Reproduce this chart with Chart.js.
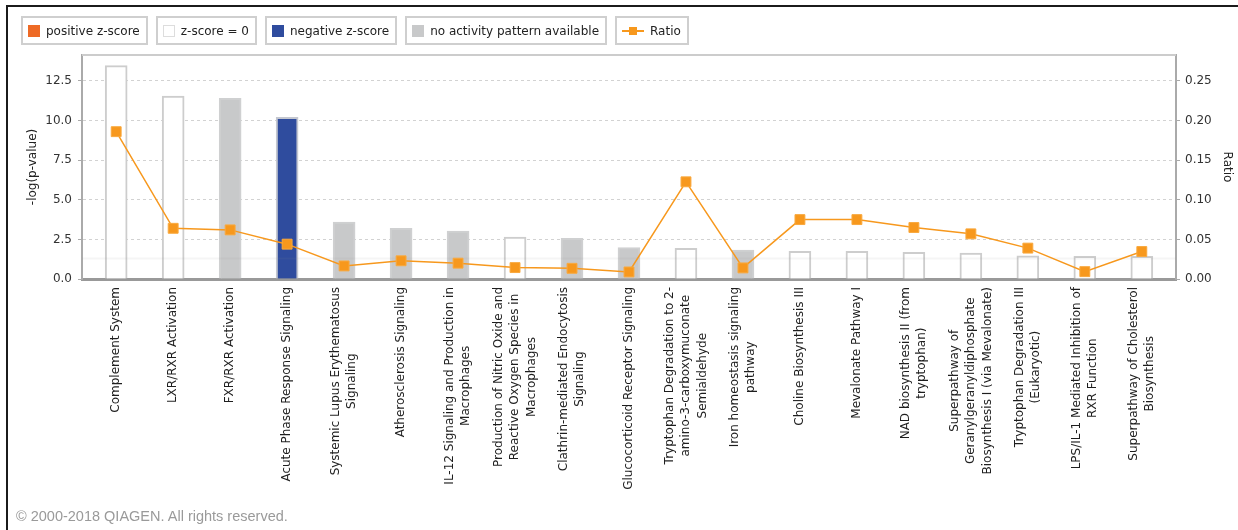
<!DOCTYPE html>
<html>
<head>
<meta charset="utf-8">
<script src="https://cdn.jsdelivr.net/npm/chart.js@4"></script>
<style>
  html,body{margin:0;padding:0;background:#fff;}
  body{width:1238px;height:530px;position:relative;overflow:hidden;font-family:"DejaVu Sans",sans-serif;}
  #wrap{position:absolute;left:0;top:0;width:1238px;height:530px;}
  .frameTop{position:absolute;left:6px;top:5px;width:1232px;height:2px;background:#1b1b1b;}
  .frameLeft{position:absolute;left:6px;top:5px;width:2px;height:525px;background:#1b1b1b;}
  #legend{position:absolute;left:21px;top:16px;display:flex;gap:8px;}
  .item{box-sizing:border-box;height:29px;border:2px solid #cfcfcf;padding:0 6px 0 5px;display:flex;align-items:center;font-size:12px;color:#222;white-space:nowrap;}
  .sw{width:12px;height:12px;margin-right:6px;box-sizing:border-box;}
  .ratioIcon{position:relative;width:22px;height:12px;margin-right:6px;}
  .ratioIcon:before{content:"";position:absolute;left:0;right:0;top:5px;height:2px;background:#f7981d;}
  .ratioIcon:after{content:"";position:absolute;left:7px;top:2px;width:8px;height:8px;background:#f7981d;}
  #copy{position:absolute;left:16px;top:508px;font-family:"Liberation Sans",Arial,sans-serif;font-size:14.5px;color:#9a9a9a;}
  canvas{position:absolute;left:0;top:0;}
</style>
</head>
<body>
<div id="wrap">
  <canvas id="chart" width="1238" height="530"></canvas>
  <div class="frameTop"></div>
  <div class="frameLeft"></div>
  <div id="legend">
    <div class="item"><span class="sw" style="background:#ee6a25"></span>positive z-score</div>
    <div class="item"><span class="sw" style="background:#fff;border:1px solid #ddd"></span>z-score = 0</div>
    <div class="item"><span class="sw" style="background:#2f4c9e"></span>negative z-score</div>
    <div class="item"><span class="sw" style="background:#c8c9ca"></span>no activity pattern available</div>
    <div class="item"><span class="ratioIcon"></span>Ratio</div>
  </div>
  <div id="copy">© 2000-2018 QIAGEN. All rights reserved.</div>
</div>
<script>
// pathways (wrapped as in the IPA export)
const pathways = [
  ["Complement System"],
  ["LXR/RXR Activation"],
  ["FXR/RXR Activation"],
  ["Acute Phase Response Signaling"],
  ["Systemic Lupus Erythematosus", "Signaling"],
  ["Atherosclerosis Signaling"],
  ["IL-12 Signaling and Production in", "Macrophages"],
  ["Production of Nitric Oxide and", "Reactive Oxygen Species in", "Macrophages"],
  ["Clathrin-mediated Endocytosis", "Signaling"],
  ["Glucocorticoid Receptor Signaling"],
  ["Tryptophan Degradation to 2-", "amino-3-carboxymuconate", "Semialdehyde"],
  ["Iron homeostasis signaling", "pathway"],
  ["Choline Biosynthesis III"],
  ["Mevalonate Pathway I"],
  ["NAD biosynthesis II (from", "tryptophan)"],
  ["Superpathway of", "Geranylgeranyldiphosphate", "Biosynthesis I (via Mevalonate)"],
  ["Tryptophan Degradation III", "(Eukaryotic)"],
  ["LPS/IL-1 Mediated Inhibition of", "RXR Function"],
  ["Superpathway of Cholesterol", "Biosynthesis"]
];
const logP  = [13.47, 11.55, 11.41, 10.21, 3.6, 3.2, 3.03, 2.65, 2.57, 1.98, 1.94, 1.83, 1.75, 1.75, 1.68, 1.64, 1.47, 1.43, 1.43];
const ratio = [0.186, 0.064, 0.062, 0.044, 0.0165, 0.023, 0.020, 0.0144, 0.0135, 0.0089, 0.1227, 0.014, 0.075, 0.075, 0.065, 0.057, 0.039, 0.0093, 0.0347];
const zType = ['zero','zero','none','negative','none','none','none','zero','none','none','zero','none','zero','zero','zero','zero','zero','zero','zero'];
const threshold = 1.3;
const leftTicks = {max: 14.14, step: 2.5};
const rightTicks = {max: 0.2828, step: 0.05};

const fill = {positive:'#ee6a25', zero:'#ffffff', negative:'#2f4c9e', none:'#c8c9ca'};
const edge = {positive:'#ee6a25', zero:'#cdcdcd', negative:'#c4c7d0', none:'#cfd0d1'};
const FONT = '"DejaVu Sans", sans-serif';

const extras = {
  id:'extras',
  beforeDatasetsDraw(chart){
    const {ctx, chartArea:a} = chart;
    ctx.save();
    ctx.strokeStyle = '#cccccc'; ctx.lineWidth = 2;
    ctx.beginPath(); ctx.moveTo(a.left, a.top); ctx.lineTo(a.right, a.top); ctx.stroke();
    ctx.restore();
  },
  afterDatasetDraw(chart, args){
    if(args.index !== 1) return;
    const {ctx, chartArea:a} = chart;
    const y = chart.scales.y.getPixelForValue(threshold);
    ctx.save();
    ctx.strokeStyle = 'rgba(140,140,140,0.09)'; ctx.lineWidth = 2;
    ctx.beginPath(); ctx.moveTo(a.left, y); ctx.lineTo(a.right, y); ctx.stroke();
    ctx.restore();
  },
  afterDraw(chart){
    const ctx = chart.ctx, xs = chart.scales.x;
    const top = chart.chartArea.bottom + 8, lh = 16.5;
    ctx.save();
    ctx.font = '12px ' + FONT;
    ctx.fillStyle = '#1e1e1e';
    ctx.textAlign = 'center';
    ctx.textBaseline = 'middle';
    pathways.forEach((lines, i)=>{
      const x = xs.getPixelForValue(i);
      const w = Math.max(...lines.map(l=>ctx.measureText(l).width));
      ctx.save();
      ctx.translate(x, top);
      ctx.rotate(-Math.PI/2);
      lines.forEach((l, k)=>{
        ctx.fillText(l, -w/2, (k - (lines.length-1)/2) * lh);
      });
      ctx.restore();
    });
    ctx.restore();
  }
};

new Chart(document.getElementById('chart'), {
  type:'bar',
  data:{
    datasets:[
      {
        type:'line', label:'Ratio', yAxisID:'y1', order:0,
        data: ratio.map((v,i)=>({x:i, y:v})),
        borderColor:'#f7981d', borderWidth:1.5, tension:0,
        pointStyle:'rect', pointRadius:7, pointHoverRadius:7,
        pointBackgroundColor:'#f7981d', pointBorderColor:'#f9a93e', pointBorderWidth:1
      },
      {
        label:'-log(p-value)', yAxisID:'y', order:1,
        data: logP.map((v,i)=>({x:i, y:v})),
        backgroundColor: zType.map(t=>fill[t]),
        borderColor: zType.map(t=>edge[t]),
        borderWidth:2, barThickness:22
      }
    ]
  },
  options:{
    responsive:false, animation:false, devicePixelRatio:1,
    layout:{padding:{top:55, left:0, right:0, bottom:0}},
    plugins:{legend:{display:false}, tooltip:{enabled:false}},
    scales:{
      x:{
        type:'linear', min:-0.6, max:18.6, offset:false,
        grid:{display:false},
        border:{color:'#999999', width:3},
        ticks:{display:false, stepSize:1},
        afterFit(s){ s.height = 251; }
      },
      y:{
        position:'left', min:0, max:leftTicks.max,
        ticks:{stepSize:leftTicks.step, includeBounds:false, padding:6, color:'#333', font:{family:FONT, size:12},
          callback:v=>v.toFixed(1)},
        grid:{color:'#d2d2d2', tickLength:4, tickColor:'#aaaaaa'},
        border:{color:'#aaaaaa', width:2, dash:[3,3]},
        title:{display:true, text:'-log(p-value)', color:'#222', font:{family:FONT, size:12}, padding:{top:26, bottom:4}},
        afterFit(s){ s.width = 82; }
      },
      y1:{
        position:'right', min:0, max:rightTicks.max,
        ticks:{stepSize:rightTicks.step, includeBounds:false, padding:5, color:'#333', font:{family:FONT, size:12},
          callback:v=>v.toFixed(2)},
        grid:{drawOnChartArea:false, tickLength:4, tickColor:'#aaaaaa'},
        border:{color:'#aaaaaa', width:2},
        title:{display:true, text:'Ratio', color:'#222', font:{family:FONT, size:12}, padding:{top:4, bottom:4}},
        afterFit(s){ s.width = 62; }
      }
    }
  },
  plugins:[extras]
});
</script>
</body>
</html>
